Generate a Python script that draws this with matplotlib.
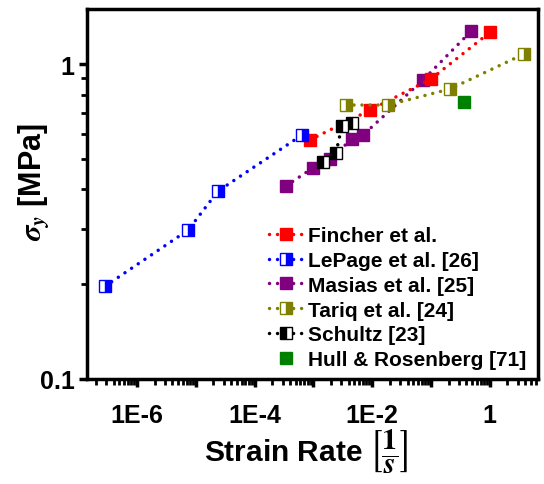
import numpy as np
import matplotlib
matplotlib.use("Agg")
import matplotlib.pyplot as plt
import matplotlib.ticker as mticker

# ── Data ─────────────────────────────────────────────────────────────────────
fincher_x = [8.7e-4, 9.2e-3, 0.10, 1.0]
fincher_y = [0.574, 0.714, 0.896, 1.26]

lepage_x = [2.86e-7, 7.4e-6, 2.39e-5, 6.4e-4]
lepage_y = [0.197, 0.297, 0.395, 0.595]

masias_x = [3.42e-4, 9.8e-4, 1.91e-3, 4.53e-3, 6.98e-3, 0.073, 0.479]
masias_y = [0.41, 0.468, 0.50, 0.578, 0.595, 0.889, 1.27]

tariq_x = [3.58e-3, 0.0186, 0.21, 3.82]
tariq_y = [0.741, 0.741, 0.833, 1.076]

schultz_x = [1.46e-3, 2.42e-3, 3.06e-3, 4.53e-3]
schultz_y = [0.489, 0.522, 0.636, 0.650]

hull_x = [0.364]
hull_y = [0.757]

# ── Style ────────────────────────────────────────────────────────────────────
plt.rcParams["font.family"] = ["Liberation Sans", "DejaVu Sans"]
plt.rcParams["font.weight"] = "bold"
plt.rcParams["mathtext.fontset"] = "custom"
plt.rcParams["mathtext.rm"] = "STIXGeneral:bold"
plt.rcParams["mathtext.it"] = "STIXGeneral:italic:bold"
plt.rcParams["mathtext.bf"] = "STIXGeneral:bold"
plt.rcParams["mathtext.fallback"] = "stix"

DOTS = (0, (0.01, 2.3))
LW = 2.5
MS = 9

fig = plt.figure(figsize=(5.44, 4.85), dpi=100)
ax = fig.add_axes([87 / 544, 1 - 380 / 485, (538 - 87) / 544, 370 / 485])


def series(x, y, color, label, fill="full", alt="white", line=True, z=3):
    return ax.plot(x, y, linestyle=DOTS if line else "none", lw=LW,
                   dash_capstyle="round", color=color, marker="s", ms=MS,
                   fillstyle=fill, markerfacecolor=color,
                   markerfacecoloralt=alt, markeredgecolor=color,
                   markeredgewidth=1.0, label=label, zorder=z)[0]


h_mas = series(masias_x, masias_y, "#800080", "Masias et al. [25]")
h_fin = series(fincher_x, fincher_y, "#ff0000", "Fincher et al.")
h_lep = series(lepage_x, lepage_y, "#0000ff", "LePage et al. [26]", fill="right")
h_tar = series(tariq_x, tariq_y, "#808000", "Tariq et al. [24]", fill="right")
h_sch = series(schultz_x, schultz_y, "black", "Schultz [23]", fill="left", z=4)
h_hul = series(hull_x, hull_y, "#008000", "Hull & Rosenberg [71]", line=False)

# ── Axes ─────────────────────────────────────────────────────────────────────
ax.set_xscale("log")
ax.set_yscale("log")
ax.set_xlim(10 ** -6.85, 10 ** 0.82)
ax.set_ylim(0.1, 1.495)

ax.xaxis.set_major_locator(mticker.LogLocator(base=10, numticks=20))
ax.xaxis.set_minor_locator(mticker.LogLocator(base=10, subs=np.arange(2, 10), numticks=20))


def xfmt(v, _):
    e = int(round(np.log10(v)))
    if e % 2 or e < -6:
        return ""
    return "1" if e == 0 else f"1E{e}"


ax.xaxis.set_major_formatter(mticker.FuncFormatter(xfmt))
ax.xaxis.set_minor_formatter(mticker.NullFormatter())
ax.yaxis.set_major_locator(mticker.FixedLocator([0.1, 1]))
ax.yaxis.set_major_formatter(mticker.FixedFormatter(["0.1", "1"]))
ax.yaxis.set_minor_locator(mticker.LogLocator(base=10, subs=np.arange(2, 10), numticks=20))
ax.yaxis.set_minor_formatter(mticker.NullFormatter())

ax.tick_params(which="major", direction="out", length=6, width=2.5,
               labelsize=18, pad=3)
ax.tick_params(which="minor", direction="out", length=4, width=2)
ax.tick_params(axis="x", which="major", pad=11)
for lab in ax.get_xticklabels() + ax.get_yticklabels():
    lab.set_fontweight("bold")
for spine in ax.spines.values():
    spine.set_linewidth(2.5)

ax.set_xlabel(r"Strain Rate $\left[\dfrac{1}{s}\right]$", fontsize=21.5,
              fontweight="bold")
ax.xaxis.set_label_coords((306 - 87) / 451, (380 - 429) / 370)
ax.set_ylabel(r"$\sigma_y$ [MPa]", fontsize=22, fontweight="bold")
ax.yaxis.set_label_coords((52 - 87) / 451, (380 - 182) / 370)

ax.legend(handles=[h_fin, h_lep, h_mas, h_tar, h_sch, h_hul],
          loc="lower right", bbox_to_anchor=((535 - 87) / 451, 0.004),
          frameon=False, prop={"size": 15, "weight": "bold"},
          handlelength=1.6, handletextpad=0.3, labelspacing=0.28,
          borderaxespad=0.0, markerscale=1.0)

fig.savefig("out.png", dpi=100)
